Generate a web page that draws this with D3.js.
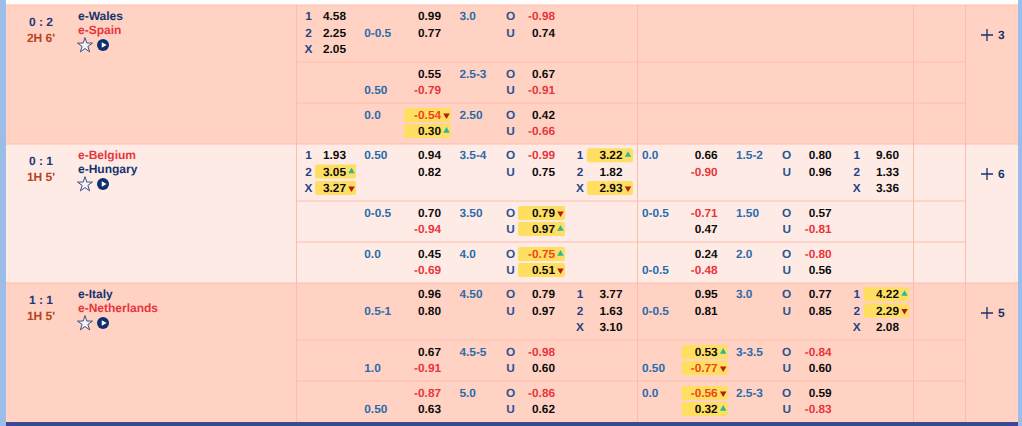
<!DOCTYPE html>
<html>
<head>
<meta charset="utf-8">
<script src="https://cdn.jsdelivr.net/npm/d3@7/dist/d3.min.js"></script>
<style>
html, body { margin: 0; padding: 0; background: #fff; overflow: hidden; }
svg { display: block; font-family: "Liberation Sans", Arial, sans-serif; font-weight: bold; font-size: 11.8px; text-rendering: geometricPrecision; }
</style>
</head>
<body>
<svg width="1022" height="426"></svg>
<script>
const homeTeams = ['e-Wales', 'e-Belgium', 'e-Italy'];
const awayTeams = ['e-Spain', 'e-Hungary', 'e-Netherlands'];
const favourites = ['away', 'home', 'away'];
const scores = ['0 : 2', '0 : 1', '1 : 1'];
const clocks = ["2H 6'", "1H 5'", "1H 5'"];
const moreCounts = ['3', '6', '5'];

// each column: 7 lines per match, ^ and v mark a moving price
const x12LabelsA = ['1','2','X','','','','',  '1','2','X','','','','',  '','','','','','',''];
const x12A = ['4.58','2.25','2.05','','','','',  '1.93','3.05^','3.27v','','','','',  '','','','','','',''];
const hcapA = ['','0-0.5','','','0.50','0.0','',  '0.50','','','0-0.5','','0.0','',  '','0.5-1','','','1.0','','0.50'];
const hcapOddsA = ['0.99','0.77','','0.55','-0.79','-0.54v','0.30^',  '0.94','0.82','','0.70','-0.94','0.45','-0.69',  '0.96','0.80','','0.67','-0.91','-0.87','0.63'];
const goalsA = ['3.0','','','2.5-3','','2.50','',  '3.5-4','','','3.50','','4.0','',  '4.50','','','4.5-5','','5.0',''];
const ouLabelsA = ['O','U','','O','U','O','U',  'O','U','','O','U','O','U',  'O','U','','O','U','O','U'];
const ouOddsA = ['-0.98','0.74','','0.67','-0.91','0.42','-0.66',  '-0.99','0.75','','0.79v','0.97^','-0.75^','0.51v',  '0.79','0.97','','-0.98','0.60','-0.86','0.62'];
const x12LabelsB = ['','','','','','','',  '1','2','X','','','','',  '1','2','X','','','',''];
const x12B = ['','','','','','','',  '3.22^','1.82','2.93v','','','','',  '3.77','1.63','3.10','','','',''];
const hcapB = ['','','','','','','',  '0.0','','','0-0.5','','','0-0.5',  '','0-0.5','','','0.50','0.0',''];
const hcapOddsB = ['','','','','','','',  '0.66','-0.90','','-0.71','0.47','0.24','-0.48',  '0.95','0.81','','0.53^','-0.77v','-0.56v','0.32^'];
const goalsB = ['','','','','','','',  '1.5-2','','','1.50','','2.0','',  '3.0','','','3-3.5','','2.5-3',''];
const ouLabelsB = ['','','','','','','',  'O','U','','O','U','O','U',  'O','U','','O','U','O','U'];
const ouOddsB = ['','','','','','','',  '0.80','0.96','','0.57','-0.81','-0.80','0.56',  '0.77','0.85','','-0.84','0.60','0.59','-0.83'];
const x12LabelsC = ['','','','','','','',  '1','2','X','','','','',  '1','2','X','','','',''];
const x12C = ['','','','','','','',  '9.60','1.33','3.36','','','','',  '4.22^','2.29v','2.08','','','',''];

const colours = {
  rowOdd: '#ffd2c3', rowEven: '#ffebe6', rule: '#ffbcaa', strip: '#9dbde9', footer: '#3a4a90',
  navy: '#14336f', score: '#1d3a78', clock: '#b5431c', red: '#e8353c', redOnYellow: '#ee4420',
  line: '#2a6cab', label: '#2c5491', labelDark: '#1f4488', odds: '#0c0c0c', yellow: '#ffdf62',
  up: '#2cb79b', down: '#b51a0a',
};

const svg = d3.select('svg');
const matchIds = d3.range(homeTeams.length);
const lineIds = d3.range(7);

const yMatch = d3.scaleBand().domain(matchIds).range([5, 422]);
const yLine = d3.scaleOrdinal().domain(lineIds).range([11.2, 27.5, 44, 69, 85, 110, 126]);
const yRule = d3.scaleOrdinal().domain(['sub1', 'sub2']).range([57, 98]);

// column positions; box is the yellow highlight span
const columns = [
  { key: 'x12LabelsA', values: x12LabelsA, kind: 'label', anchor: 'middle', x: 308.5 },
  { key: 'x12A', values: x12A, kind: 'odds', anchor: 'end', x: 346, box: [315, 356] },
  { key: 'hcapA', values: hcapA, kind: 'line', anchor: 'start', x: 364.3 },
  { key: 'hcapOddsA', values: hcapOddsA, kind: 'odds', anchor: 'end', x: 441, box: [404, 450.7] },
  { key: 'goalsA', values: goalsA, kind: 'line', anchor: 'start', x: 459.5 },
  { key: 'ouLabelsA', values: ouLabelsA, kind: 'label', anchor: 'middle', x: 510.5 },
  { key: 'ouOddsA', values: ouOddsA, kind: 'odds', anchor: 'end', x: 555, box: [518, 565] },
  { key: 'x12LabelsB', values: x12LabelsB, kind: 'label', anchor: 'middle', x: 580 },
  { key: 'x12B', values: x12B, kind: 'odds', anchor: 'end', x: 622.5, box: [587, 633] },
  { key: 'hcapB', values: hcapB, kind: 'line', anchor: 'start', x: 642 },
  { key: 'hcapOddsB', values: hcapOddsB, kind: 'odds', anchor: 'end', x: 717.7, box: [681.7, 727.7] },
  { key: 'goalsB', values: goalsB, kind: 'line', anchor: 'start', x: 736 },
  { key: 'ouLabelsB', values: ouLabelsB, kind: 'label', anchor: 'middle', x: 786.7 },
  { key: 'ouOddsB', values: ouOddsB, kind: 'odds', anchor: 'end', x: 831.7 },
  { key: 'x12LabelsC', values: x12LabelsC, kind: 'label', anchor: 'middle', x: 856.7 },
  { key: 'x12C', values: x12C, kind: 'odds', anchor: 'end', x: 899, box: [864, 909] },
];

// backgrounds
svg.append('g').selectAll('rect')
  .data(matchIds)
  .join('rect')
    .attr('x', 6)
    .attr('y', d => yMatch(d))
    .attr('width', 1012)
    .attr('height', yMatch.bandwidth())
    .attr('fill', d => d % 2 ? colours.rowEven : colours.rowOdd);

svg.append('rect').attr('x', 0).attr('y', 0).attr('width', 6).attr('height', 426).attr('fill', colours.strip);
svg.append('rect').attr('x', 1018).attr('y', 0).attr('width', 4).attr('height', 426).attr('fill', colours.strip);
svg.append('rect').attr('x', 6).attr('y', 422).attr('width', 1012).attr('height', 4).attr('fill', colours.footer);

// rules
const rules = svg.append('g').attr('stroke', colours.rule).attr('stroke-width', 1);
matchIds.forEach((m) => {
  const top = yMatch(m);
  rules.append('line').attr('x1', 6).attr('x2', 1018).attr('y1', top).attr('y2', top);
  ['sub1', 'sub2'].forEach((s) => {
    rules.append('line').attr('x1', 296).attr('x2', 965)
      .attr('y1', top + yRule(s)).attr('y2', top + yRule(s));
  });
});
[296.5, 637.5, 913.5, 965.5].forEach((x) => {
  rules.append('line').attr('x1', x).attr('x2', x).attr('y1', 5).attr('y2', 422);
});

// match info
const info = svg.append('g').selectAll('g')
  .data(matchIds)
  .join('g')
    .attr('transform', d => `translate(0,${yMatch(d)})`);

info.append('text').attr('x', 41).attr('y', 17).attr('dy', '.35em').attr('text-anchor', 'middle')
  .attr('fill', colours.score).attr('font-size', 12).text(d => scores[d]);
info.append('text').attr('x', 41).attr('y', 33).attr('dy', '.35em').attr('text-anchor', 'middle')
  .attr('fill', colours.clock).attr('font-size', 12).text(d => clocks[d]);
info.append('text').attr('x', 78).attr('y', 11).attr('dy', '.35em').attr('font-size', 12)
  .attr('fill', d => favourites[d] === 'home' ? colours.red : colours.navy).text(d => homeTeams[d]);
info.append('text').attr('x', 78).attr('y', 25).attr('dy', '.35em').attr('font-size', 12)
  .attr('fill', d => favourites[d] === 'away' ? colours.red : colours.navy).text(d => awayTeams[d]);

const star = d3.symbol().type(d3.symbolStar).size(70);
info.append('path').attr('transform', 'translate(85,40.5)').attr('d', star())
  .attr('fill', '#f4f3f6').attr('stroke', '#3d5283').attr('stroke-width', 1).attr('stroke-linejoin', 'round');
info.append('circle').attr('cx', 103).attr('cy', 40).attr('r', 6).attr('fill', '#0f2f6e');
info.append('path').attr('transform', 'translate(103.4,40) rotate(90)')
  .attr('d', d3.symbol().type(d3.symbolTriangle).size(14)()).attr('fill', '#fff');

// expand cell
info.append('path').attr('transform', 'translate(987,30)').attr('d', 'M-6,0H6M0,-6V6')
  .attr('stroke', colours.navy).attr('stroke-width', 1.3);
info.append('text').attr('x', 998).attr('y', 30).attr('dy', '.35em').attr('fill', colours.navy)
  .attr('font-size', 12).text(d => moreCounts[d]);

// flatten columns to cells
const cells = columns.flatMap(col => col.values.map((raw, i) => {
  const match = Math.floor(i / lineIds.length);
  const line = i % lineIds.length;
  const flag = /[\^v]$/.test(raw) ? raw.slice(-1) : null;
  return { col, match, line, flag, text: flag ? raw.slice(0, -1) : raw, y: yMatch(match) + yLine(line) };
})).filter(d => d.text !== '');

const textColour = (d) => {
  if (d.col.kind === 'line') return colours.line;
  if (d.col.kind === 'label') return d.text === 'O' || d.text === 'U' ? colours.label : colours.labelDark;
  if (d.text.startsWith('-')) return d.flag ? colours.redOnYellow : colours.red;
  return colours.odds;
};

const moved = cells.filter(d => d.flag);

svg.append('g').selectAll('rect')
  .data(moved)
  .join('rect')
    .attr('x', d => d.col.box[0])
    .attr('y', d => d.y - 7)
    .attr('width', d => d.col.box[1] - d.col.box[0])
    .attr('height', 14)
    .attr('rx', 2)
    .attr('fill', colours.yellow);

svg.append('g').selectAll('text')
  .data(cells)
  .join('text')
    .attr('x', d => d.col.x)
    .attr('y', d => d.y)
    .attr('dy', '.35em')
    .attr('text-anchor', d => d.col.anchor)
    .attr('fill', textColour)
    .text(d => d.text);

const arrow = d3.symbol().type(d3.symbolTriangle).size(18);
svg.append('g').selectAll('path')
  .data(moved)
  .join('path')
    .attr('transform', d => `translate(${d.col.x + 5.5},${d.y + (d.flag === 'v' ? 0.3 : -0.2)}) rotate(${d.flag === 'v' ? 180 : 0})`)
    .attr('d', arrow())
    .attr('fill', d => d.flag === 'v' ? colours.down : colours.up);
</script>
</body>
</html>
